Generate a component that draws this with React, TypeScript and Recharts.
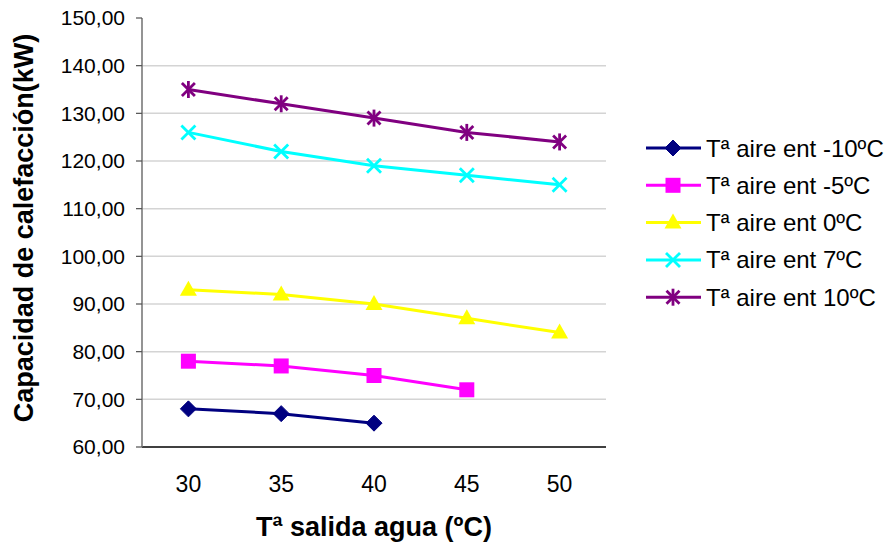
import React from "react";
import { LineChart, Line, XAxis, YAxis, CartesianGrid } from "recharts";

const xValues = [30, 35, 40, 45, 50];
const xBoundaries = [27.5, 32.5, 37.5, 42.5, 47.5, 52.5];
const yTicks = [60, 70, 80, 90, 100, 110, 120, 130, 140, 150];
const gridValues = [70, 80, 90, 100, 110, 120, 130, 140];

const airNeg10 = [68, 67, 65];
const airNeg5 = [78, 77, 75, 72];
const air0 = [93, 92, 90, 87, 84];
const air7 = [126, 122, 119, 117, 115];
const air10 = [135, 132, 129, 126, 124];

const seriesNames = [
  "Tª aire ent -10ºC",
  "Tª aire ent -5ºC",
  "Tª aire ent 0ºC",
  "Tª aire ent 7ºC",
  "Tª aire ent 10ºC",
];
const seriesKeys = ["s1", "s2", "s3", "s4", "s5"];
const seriesColors = ["#000080", "#FF00FF", "#FFFF00", "#00FFFF", "#800080"];
const seriesShapes = ["diamond", "square", "triangle", "x", "star"];
const seriesValues = [airNeg10, airNeg5, air0, air7, air10];

const data = xValues.map((x, i) => {
  const row: any = { x };
  seriesKeys.forEach((k, j) => {
    row[k] = seriesValues[j][i];
  });
  return row;
});

const FONT = "'Liberation Sans', Arial, sans-serif";

function Marker({ shape, color, cx, cy }: { shape: string; color: string; cx: number; cy: number }) {
  if (shape === "diamond") {
    return (
      <polygon
        points={`${cx},${cy - 8} ${cx + 8},${cy} ${cx},${cy + 8} ${cx - 8},${cy}`}
        fill={color}
        stroke={color}
        strokeWidth={1}
      />
    );
  }
  if (shape === "square") {
    return <rect x={cx - 7.5} y={cy - 7.5} width={15} height={15} fill={color} />;
  }
  if (shape === "triangle") {
    return (
      <polygon
        points={`${cx},${cy - 9} ${cx + 8.5},${cy + 6} ${cx - 8.5},${cy + 6}`}
        fill={color}
      />
    );
  }
  if (shape === "x") {
    return (
      <g stroke={color} strokeWidth={2.8}>
        <line x1={cx - 7} y1={cy - 7} x2={cx + 7} y2={cy + 7} />
        <line x1={cx - 7} y1={cy + 7} x2={cx + 7} y2={cy - 7} />
      </g>
    );
  }
  return (
    <g stroke={color} strokeWidth={2.8}>
      <line x1={cx - 6.5} y1={cy - 6.5} x2={cx + 6.5} y2={cy + 6.5} />
      <line x1={cx - 6.5} y1={cy + 6.5} x2={cx + 6.5} y2={cy - 6.5} />
      <line x1={cx} y1={cy - 8.5} x2={cx} y2={cy + 8.5} />
    </g>
  );
}

const makeDot = (shape: string, color: string, key: string) => (props: any) => {
  const { cx, cy, index, value } = props;
  if (cx == null || cy == null || value == null || (Array.isArray(value) && value[1] == null)) {
    return <g key={`${key}-${index}`} />;
  }
  return (
    <g key={`${key}-${index}`}>
      <Marker shape={shape} color={color} cx={cx} cy={cy} />
    </g>
  );
};

const fmt = (v: number) => v.toFixed(2).replace(".", ",");

export default function App() {
  const legendTop = 148;
  const legendStep = 37.3;
  return (
    <div
      style={{
        position: "absolute",
        left: 0,
        top: 0,
        width: 890,
        height: 547,
        background: "#ffffff",
        fontFamily: FONT,
      }}
    >
      <LineChart
        width={890}
        height={547}
        data={data}
        margin={{ top: 18, right: 284, left: 0, bottom: 0 }}
      >
        <CartesianGrid
          vertical={false}
          horizontalValues={gridValues}
          stroke="#d4d4d4"
          strokeWidth={1.5}
        />
        <XAxis
          dataKey="x"
          type="number"
          domain={[27.5, 52.5]}
          ticks={xBoundaries}
          interval={0}
          height={1}
          tickSize={6}
          tick={false}
          axisLine={{ stroke: "#000000", strokeWidth: 1.5 }}
          tickLine={{ stroke: "#000000", strokeWidth: 1.2 }}
        />
        <XAxis
          xAxisId="lbl"
          dataKey="x"
          type="number"
          domain={[27.5, 52.5]}
          ticks={xValues}
          interval={0}
          height={99}
          tickSize={0}
          tickMargin={28}
          axisLine={false}
          tickLine={false}
          tick={{ fill: "#000000", fontSize: 23, fontFamily: FONT }}
        />
        <YAxis
          type="number"
          domain={[60, 150]}
          ticks={yTicks}
          interval={0}
          width={142}
          tickSize={6}
          tickMargin={11}
          tickFormatter={fmt}
          axisLine={{ stroke: "#707070", strokeWidth: 1.5 }}
          tickLine={{ stroke: "#505050", strokeWidth: 1.2 }}
          tick={{ fill: "#000000", fontSize: 21, fontFamily: FONT }}
        />
        {seriesKeys.map((k, j) => (
          <Line
            key={k}
            dataKey={k}
            name={seriesNames[j]}
            type="linear"
            stroke={seriesColors[j]}
            strokeWidth={3}
            dot={makeDot(seriesShapes[j], seriesColors[j], k)}
            activeDot={false}
            isAnimationActive={false}
            connectNulls={false}
          />
        ))}
      </LineChart>
      <svg
        width={890}
        height={547}
        style={{ position: "absolute", left: 0, top: 0, pointerEvents: "none" }}
      >
        {seriesNames.map((name, j) => {
          const y = legendTop + j * legendStep;
          return (
            <g key={name}>
              <line x1={646} y1={y} x2={701} y2={y} stroke={seriesColors[j]} strokeWidth={3} />
              <Marker shape={seriesShapes[j]} color={seriesColors[j]} cx={673} cy={y} />
              <text x={706} y={y + 8.5} fontSize={24} fontFamily={FONT} fill="#000000">
                {name}
              </text>
            </g>
          );
        })}
        <text
          x={374}
          y={536}
          textAnchor="middle"
          fontSize={27}
          fontWeight="bold"
          fontFamily={FONT}
          fill="#000000"
        >
          Tª salida agua (ºC)
        </text>
        <text
          transform="translate(33,228) rotate(-90)"
          textAnchor="middle"
          fontSize={27}
          fontWeight="bold"
          fontFamily={FONT}
          fill="#000000"
        >
          Capacidad de calefacción(kW)
        </text>
      </svg>
    </div>
  );
}
